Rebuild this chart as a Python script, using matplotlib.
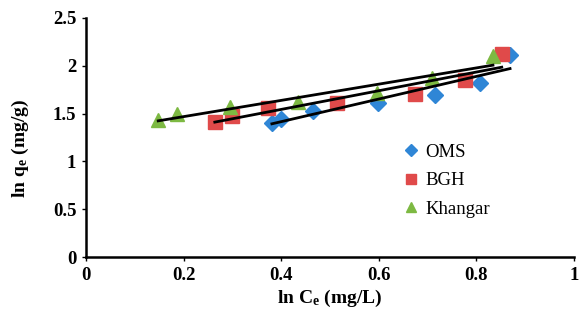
import matplotlib
matplotlib.use("Agg")
import matplotlib.pyplot as plt
import numpy as np

plt.rcParams['font.family'] = ['Liberation Serif', 'DejaVu Serif']
plt.rcParams['mathtext.fontset'] = 'custom'
plt.rcParams['mathtext.rm'] = 'Liberation Serif:bold'
plt.rcParams['mathtext.it'] = 'Liberation Serif:bold'
plt.rcParams['mathtext.default'] = 'rm'

# ln Ce vs ln qe for each adsorbent
oms_x = [0.381, 0.400, 0.465, 0.598, 0.715, 0.807, 0.869]
oms_y = [1.40, 1.44, 1.53, 1.61, 1.70, 1.82, 2.11]
bgh_x = [0.264, 0.300, 0.373, 0.514, 0.674, 0.777, 0.852]
bgh_y = [1.41, 1.48, 1.56, 1.61, 1.71, 1.85, 2.12]
kh_x = [0.148, 0.186, 0.295, 0.434, 0.596, 0.709, 0.834]
kh_y = [1.43, 1.50, 1.57, 1.62, 1.72, 1.87, 2.10]

series = [
    ("OMS", oms_x, oms_y, "D", "#2F86D6", 8),
    ("BGH", bgh_x, bgh_y, "s", "#E04A4A", 10),
    ("Khangar", kh_x, kh_y, "^", "#7DB942", 10),
]

fig = plt.figure(figsize=(5.83, 3.21), dpi=100)
ax = fig.add_axes([0.1475, 0.199, 0.837, 0.745])

for name, xs, ys, mk, col, ms in series:
    ax.plot(xs, ys, linestyle="none", marker=mk, color=col, markersize=ms,
            label=name, zorder=2)

# linear trend lines drawn over the markers
for name, xs, ys, mk, col, ms in series:
    k, b = np.polyfit(xs, ys, 1)
    xx = np.array([min(xs), max(xs)])
    ax.plot(xx, k * xx + b, color="black", linewidth=2.0, zorder=3)

ax.set_xlim(0, 1)
ax.set_ylim(0, 2.5)
ax.set_xticks([0, 0.2, 0.4, 0.6, 0.8, 1])
ax.set_xticklabels(["0", "0.2", "0.4", "0.6", "0.8", "1"])
ax.set_yticks([0, 0.5, 1, 1.5, 2, 2.5])
ax.set_yticklabels(["0", "0.5", "1", "1.5", "2", "2.5"])

for sp in ["top", "right"]:
    ax.spines[sp].set_visible(False)
for sp in ["left", "bottom"]:
    ax.spines[sp].set_linewidth(1.8)
ax.tick_params(direction="out", length=3, width=1, labelsize=13.5, pad=4)
for lbl in ax.get_xticklabels() + ax.get_yticklabels():
    lbl.set_fontweight("bold")

ax.set_xlabel("ln C$_e$ (mg/L)", fontsize=14, fontweight="bold", labelpad=3)
ax.set_ylabel("ln q$_e$ (mg/g)", fontsize=14, fontweight="bold")
ax.yaxis.set_label_coords(-0.112, 0.455)

ax.legend(loc="upper left", bbox_to_anchor=(0.615, 0.545), frameon=False,
          fontsize=13.5, handlelength=0.9, handletextpad=0.3, labelspacing=0.6,
          markerscale=0.75)

fig.savefig("out.png", dpi=100)
